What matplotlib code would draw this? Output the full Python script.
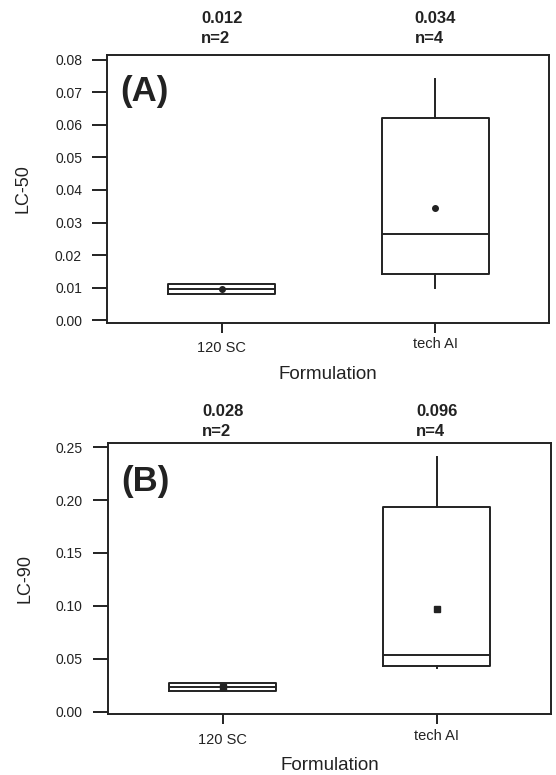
import matplotlib
matplotlib.use("Agg")
import matplotlib.pyplot as plt
from matplotlib.ticker import FormatStrFormatter

plt.rcParams['font.family'] = ['Liberation Sans', 'DejaVu Sans']

# data
groups = ["120 SC", "tech AI"]
n_obs = [2, 4]

lc50_lo = [0.0080, 0.00975]
lc50_q1 = [0.0080, 0.01415]
lc50_med = [0.00945, 0.02637]
lc50_q3 = [0.01108, 0.06225]
lc50_hi = [0.01108, 0.07415]
lc50_mean = [0.0095, 0.03437]
lc50_top = ["0.012", "0.034"]

lc90_lo = [0.0197, 0.0409]
lc90_q1 = [0.0197, 0.0428]
lc90_med = [0.0232, 0.0535]
lc90_q3 = [0.0267, 0.1932]
lc90_hi = [0.0267, 0.2405]
lc90_mean = [0.0232, 0.0970]
lc90_top = ["0.028", "0.096"]

lc50_ticks = [0.00, 0.01, 0.02, 0.03, 0.04, 0.05, 0.06, 0.07, 0.08]
lc90_ticks = [0.00, 0.05, 0.10, 0.15, 0.20, 0.25]

ink = "#222222"
lw = 1.4


def panel(ax, lo, q1, med, q3, hi, mean, top, tag, ylab, ylim, yticks,
          marker, ms, top_y, tag_y, xlab_y, ylab_x):
    stats = []
    for i in range(len(groups)):
        stats.append(dict(whislo=lo[i], q1=q1[i], med=med[i], q3=q3[i],
                          whishi=hi[i], mean=mean[i], label=groups[i]))
    line = dict(color=ink, linewidth=lw)
    ax.bxp(stats, positions=[1, 2], widths=0.5, showcaps=False,
           showfliers=False, showmeans=True,
           boxprops=line, medianprops=line, whiskerprops=line,
           meanprops=dict(marker=marker, markerfacecolor=ink,
                          markeredgecolor=ink, markersize=ms))
    ax.set_xlim(0.465, 2.533)
    ax.set_ylim(ylim)
    ax.set_yticks(yticks)
    ax.yaxis.set_major_formatter(FormatStrFormatter('%.2f'))
    ax.set_xticks([1, 2], groups)
    ax.tick_params(axis='y', length=10.8, width=lw, pad=7.5,
                   labelsize=10, color=ink, labelcolor=ink)
    ax.tick_params(axis='x', length=7.2, width=lw, pad=3,
                   labelsize=10.5, color=ink, labelcolor=ink)
    ax.xaxis.get_major_ticks()[0].label1.set_y(-0.016)
    for s in ax.spines.values():
        s.set_linewidth(lw)
        s.set_color(ink)

    ax.set_xlabel("Formulation", fontsize=13.5, color=ink)
    ax.xaxis.set_label_coords(0.5, xlab_y)
    ax.set_ylabel(ylab, fontsize=13, color=ink)
    ax.yaxis.set_label_coords(ylab_x, 0.5)

    tr = ax.get_xaxis_transform()
    for i in range(len(groups)):
        ax.text(i + 1, top_y, top[i] + "\nn=" + str(n_obs[i]),
                transform=tr, ha='center', va='baseline',
                multialignment='left', fontsize=12, fontweight='bold',
                linespacing=1.4, color=ink)

    ax.text(0.03, tag_y, tag, transform=ax.transAxes, ha='left',
            va='baseline', fontsize=25, fontweight='bold', color=ink)


fig = plt.figure(figsize=(5.56, 7.75), dpi=100)
ax1 = fig.add_axes([0.1933, 0.5832, 0.7941, 0.3458])
ax2 = fig.add_axes([0.1942, 0.0781, 0.7968, 0.3503])

panel(ax1, lc50_lo, lc50_q1, lc50_med, lc50_q3, lc50_hi, lc50_mean, lc50_top,
      "(A)", "LC-50", (-0.0009, 0.0815), lc50_ticks, 'o', 4,
      1.044, 0.828, -0.160, -0.171)
panel(ax2, lc90_lo, lc90_q1, lc90_med, lc90_q3, lc90_hi, lc90_mean, lc90_top,
      "(B)", "LC-90", (-0.0028, 0.2541), lc90_ticks, 's', 4.8,
      1.027, 0.823, -0.155, -0.167)

fig.savefig("out.png", dpi=100)
